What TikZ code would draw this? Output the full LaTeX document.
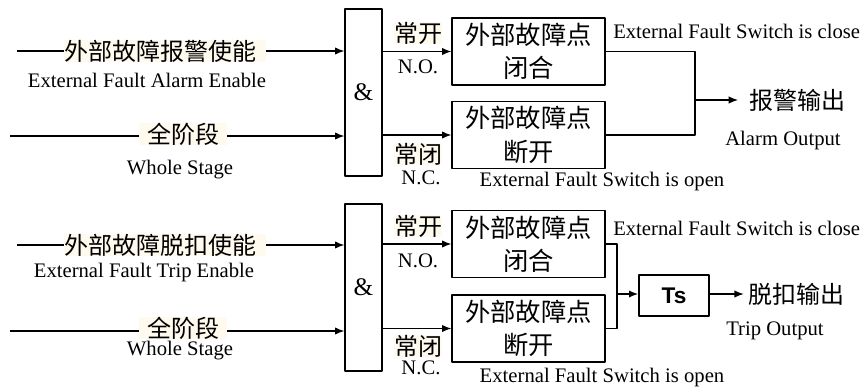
\documentclass[tikz,border=0pt]{standalone}
\usepackage{fontspec}
\setmainfont{Liberation Serif}
\newfontfamily\cjk{Noto Sans CJK SC}
\newfontfamily\arial{Liberation Sans}
\usetikzlibrary{arrows.meta}
\definecolor{cream}{RGB}{255,250,238}
\begin{document}
\begin{tikzpicture}[x=0.75pt,y=-0.75pt,>={Latex[length=7pt,width=5.5pt]},line join=round,
	zh/.style={font=\cjk\fontsize{18}{20}\selectfont,fill=cream,inner ysep=0pt,inner xsep=0pt},
	zhout/.style={font=\cjk\fontsize{18}{20}\selectfont,inner ysep=0pt},
	en/.style={font=\fontsize{15.5}{17}\selectfont,inner sep=0pt},
	gate/.style={draw,line width=0.9pt,minimum width=27.75pt,minimum height=125.25pt,inner sep=0pt,font=\fontsize{19}{21}\selectfont},
	sw/.style={draw,line width=0.9pt,minimum width=114.75pt,minimum height=50.25pt,inner sep=0pt,align=center,font=\cjk\fontsize{19}{25}\selectfont},
	wire/.style={line width=0.9pt}]
	\useasboundingbox (0,0) rectangle (864,390);
	%Phần trên: báo động
	\node[gate] (and1) at (363.5,92.5) {\&};
	\node[zh] (en1) at (165,51) {外部故障报警使能\kern7pt};
	\node[en] (en1t) at (147,80) {External Fault Alarm Enable};
	\node[zh,inner xsep=6pt] (ws1) at (183,134) {全阶段};
	\node[en] (ws1t) at (180,170) {Whole Stage};
	\coordinate (s1) at (17,51);
	\coordinate (s2) at (10,136);
	\draw[wire] (s1)--(en1) (s2)--(ws1.west |- s2);
	\draw[wire,->] (en1.east)--(en1.east -| and1.west);
	\draw[wire,->] (ws1.east |- s2)--(s2 -| and1.west);
	\node[sw] (a1) at (528.5,51.5) {外部故障点\\闭合};
	\node[sw] (b1) at (528.5,135) {外部故障点\\断开};
	\draw[wire,->] (and1.east |- a1.west)--(a1.west);
	\draw[wire,->] (and1.east |- b1.west)--(b1.west);
	\node[zh] (no1) at (418,33) {常开};
	\node[en] (no1t) at (418,67) {N.O.};
	\node[zh] (nc1) at (418,154) {常闭};
	\node[en] (nc1t) at (421,178) {N.C.};
	\node[en,anchor=west] (cl1) at (613,31) {External Fault Switch is close};
	\node[en] (op1) at (602,182) {External Fault Switch is open};
	\coordinate (j1) at (695,100);
	\draw[wire] (a1.east) -| (j1) |- (b1.east);
	\node[zhout,inner xsep=8pt] (out1) at (797,100) {报警输出};
	\draw[wire,->] (j1)--(out1.west);
	\node[en] (out1t) at (783,141) {Alarm Output};
	%Phần dưới: cắt
	\node[gate] (and2) at (363.5,287.5) {\&};
	\node[zh] (en2) at (165,245) {外部故障脱扣使能\kern7pt};
	\node[en] (en2t) at (144,273) {External Fault Trip Enable};
	\node[zh,inner xsep=6pt] (ws2) at (183,328) {全阶段};
	\node[en] (ws2t) at (180,351) {Whole Stage};
	\coordinate (s3) at (17,245);
	\coordinate (s4) at (10,331);
	\draw[wire] (s3)--(en2) (s4)--(ws2.west |- s4);
	\draw[wire,->] (en2.east)--(en2.east -| and2.west);
	\draw[wire,->] (ws2.east |- s4)--(s4 -| and2.west);
	\node[sw] (a2) at (528.5,244) {外部故障点\\闭合};
	\node[sw] (b2) at (528.5,328.5) {外部故障点\\断开};
	\draw[wire,->] (and2.east |- a2.west)--(a2.west);
	\draw[wire,->] (and2.east |- b2.west)--(b2.west);
	\node[zh] (no2) at (418,226) {常开};
	\node[en] (no2t) at (418,261) {N.O.};
	\node[zh] (nc2) at (418,346) {常闭};
	\node[en] (nc2t) at (421,368) {N.C.};
	\node[en,anchor=west] (cl2) at (613,228) {External Fault Switch is close};
	\node[en] (op2) at (602,378) {External Fault Switch is open};
	\coordinate (j2) at (617,294);
	\draw[wire] (a2.east) -| (j2) |- (b2.east);
	\node[draw,line width=0.9pt,minimum width=52.5pt,minimum height=30.75pt,font=\arial\bfseries\fontsize{17}{19}\selectfont] (ts) at (674,295.5) {Ts};
	\draw[line width=2pt,->] (j2)--(j2 -| ts.west);
	\node[zhout,inner xsep=3pt] (out2) at (796,294) {脱扣输出};
	\draw[wire,->] (ts.east |- out2.west)--(out2.west);
	\node[en] (out2t) at (775,331) {Trip Output};
\end{tikzpicture}
\end{document}
